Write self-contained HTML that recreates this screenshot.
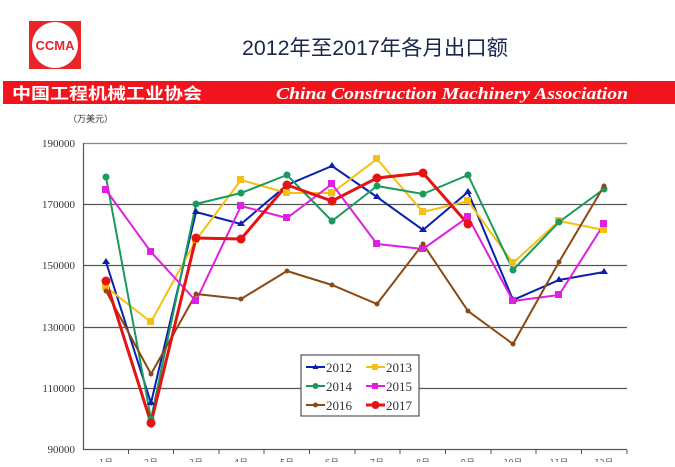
<!DOCTYPE html>
<html><head><meta charset="utf-8"><style>
body{margin:0;background:#fff;width:675px;height:462px;overflow:hidden}
</style></head><body>
<svg width="675" height="462" xmlns="http://www.w3.org/2000/svg" font-family="'Liberation Serif','Noto Serif CJK SC',serif">
<rect x="29" y="21" width="52" height="48" fill="#e8262a"/>
<ellipse cx="55" cy="45" rx="23" ry="23" fill="#fff"/>
<text x="55" y="50" font-family="'Liberation Sans',sans-serif" font-weight="bold" font-size="13" fill="#e8262a" text-anchor="middle">CCMA</text>
<text x="242" y="55" font-family="'Liberation Sans','Noto Sans CJK SC',sans-serif" font-size="21" fill="#1a2550" textLength="266" lengthAdjust="spacingAndGlyphs">2012年至2017年各月出口额</text>
<rect x="3" y="81" width="672" height="23" fill="#f2141c"/>
<text x="12" y="99" font-family="'Noto Sans CJK SC',sans-serif" font-weight="bold" font-size="16" fill="#fff" textLength="190" lengthAdjust="spacingAndGlyphs">中国工程机械工业协会</text>
<text x="276" y="99" font-style="italic" font-weight="bold" font-size="17" fill="#fff" textLength="352" lengthAdjust="spacingAndGlyphs">China Construction Machinery Association</text>
<text x="68" y="122" font-family="'Noto Sans CJK SC',sans-serif" font-size="9" fill="#333">（万美元）</text>
<g stroke="#555" stroke-width="1.2">
<line x1="83" y1="143.5" x2="627" y2="143.5" stroke="#888"/>
<line x1="83" y1="204.5" x2="627" y2="204.5"/>
<line x1="83" y1="265.5" x2="627" y2="265.5"/>
<line x1="83" y1="327.5" x2="627" y2="327.5"/>
<line x1="83" y1="388.5" x2="627" y2="388.5"/>
<line x1="83" y1="449.5" x2="627" y2="449.5"/>
<line x1="83.5" y1="143" x2="83.5" y2="450"/>
</g>
<g font-size="11" fill="#333" text-anchor="end">
<text x="75" y="147">190000</text><text x="75" y="208">170000</text><text x="75" y="269">150000</text>
<text x="75" y="331">130000</text><text x="75" y="392">110000</text><text x="75" y="453">90000</text>
</g>
<g stroke="#555" stroke-width="1">
<line x1="128.5" y1="450" x2="128.5" y2="454"/><line x1="173.5" y1="450" x2="173.5" y2="454"/><line x1="219" y1="450" x2="219" y2="454"/><line x1="264" y1="450" x2="264" y2="454"/><line x1="309.5" y1="450" x2="309.5" y2="454"/><line x1="355" y1="450" x2="355" y2="454"/><line x1="400" y1="450" x2="400" y2="454"/><line x1="445.5" y1="450" x2="445.5" y2="454"/><line x1="491" y1="450" x2="491" y2="454"/><line x1="536" y1="450" x2="536" y2="454"/><line x1="581.5" y1="450" x2="581.5" y2="454"/><line x1="627" y1="450" x2="627" y2="454"/>
</g>
<g font-family="'Noto Sans CJK SC',sans-serif" font-size="9" fill="#555" text-anchor="middle">
<text x="106" y="466">1月</text><text x="151" y="466">2月</text><text x="196" y="466">3月</text><text x="241" y="466">4月</text><text x="287" y="466">5月</text><text x="332" y="466">6月</text><text x="377" y="466">7月</text><text x="423" y="466">8月</text><text x="468" y="466">9月</text><text x="513" y="466">10月</text><text x="559" y="466">11月</text><text x="604" y="466">12月</text>
</g>
<g fill="none" stroke-width="2">
<polyline stroke="#0a1fb0" points="106,262 151,403 196,212 241,224 287,185 332,166 377,197 423,230 468,192 513,300 559,280 604,272"/>
<polyline stroke="#f6c012" points="106,287 151,322 196,240 241,180 287,193 332,193 377,159 423,212 468,201 513,263 559,221 604,230"/>
<polyline stroke="#1a9a5c" points="106,177 151,419 196,204 241,193 287,175 332,221 377,186 423,194 468,175 513,270 559,222 604,189"/>
<polyline stroke="#e020e0" points="106,190 151,252 196,301 241,206 287,218 332,184 377,244 423,249 468,217 513,301 559,295 604,224"/>
<polyline stroke="#8b4a14" points="106,291 151,374 196,294 241,299 287,271 332,285 377,304 423,244 468,311 513,344 559,262 604,186"/>
<polyline stroke="#e41414" stroke-width="3" points="106,281 151,423 196,238 241,239 287,185 332,201 377,178 423,173 468,224"/>
</g>
<g fill="#0a1fb0"><path d="M106 258l4 6h-8z M151 399l4 6h-8z M196 208l4 6h-8z M241 220l4 6h-8z M287 181l4 6h-8z M332 162l4 6h-8z M377 193l4 6h-8z M423 226l4 6h-8z M468 188l4 6h-8z M513 296l4 6h-8z M559 276l4 6h-8z M604 268l4 6h-8z"/></g>
<g fill="#f6c012"><rect x="102" y="283" width="7" height="7"/><rect x="147" y="318" width="7" height="7"/><rect x="192" y="236" width="7" height="7"/><rect x="237" y="176" width="7" height="7"/><rect x="283" y="189" width="7" height="7"/><rect x="328" y="189" width="7" height="7"/><rect x="373" y="155" width="7" height="7"/><rect x="419" y="208" width="7" height="7"/><rect x="464" y="197" width="7" height="7"/><rect x="509" y="259" width="7" height="7"/><rect x="555" y="217" width="7" height="7"/><rect x="600" y="226" width="7" height="7"/></g>
<g fill="#1a9a5c"><circle cx="106" cy="177" r="3.5"/><circle cx="151" cy="419" r="3.5"/><circle cx="196" cy="204" r="3.5"/><circle cx="241" cy="193" r="3.5"/><circle cx="287" cy="175" r="3.5"/><circle cx="332" cy="221" r="3.5"/><circle cx="377" cy="186" r="3.5"/><circle cx="423" cy="194" r="3.5"/><circle cx="468" cy="175" r="3.5"/><circle cx="513" cy="270" r="3.5"/><circle cx="559" cy="222" r="3.5"/><circle cx="604" cy="189" r="3.5"/></g>
<g fill="#e020e0"><rect x="102" y="186" width="7" height="7"/><rect x="147" y="248" width="7" height="7"/><rect x="192" y="297" width="7" height="7"/><rect x="237" y="202" width="7" height="7"/><rect x="283" y="214" width="7" height="7"/><rect x="328" y="180" width="7" height="7"/><rect x="373" y="240" width="7" height="7"/><rect x="419" y="245" width="7" height="7"/><rect x="464" y="213" width="7" height="7"/><rect x="509" y="297" width="7" height="7"/><rect x="555" y="291" width="7" height="7"/><rect x="600" y="220" width="7" height="7"/></g>
<g fill="#8b4a14"><circle cx="106" cy="291" r="2.5"/><circle cx="151" cy="374" r="2.5"/><circle cx="196" cy="294" r="2.5"/><circle cx="241" cy="299" r="2.5"/><circle cx="287" cy="271" r="2.5"/><circle cx="332" cy="285" r="2.5"/><circle cx="377" cy="304" r="2.5"/><circle cx="423" cy="244" r="2.5"/><circle cx="468" cy="311" r="2.5"/><circle cx="513" cy="344" r="2.5"/><circle cx="559" cy="262" r="2.5"/><circle cx="604" cy="186" r="2.5"/></g>
<g fill="#e41414"><circle cx="106" cy="281" r="4.5"/><circle cx="151" cy="423" r="4.5"/><circle cx="196" cy="238" r="4.5"/><circle cx="241" cy="239" r="4.5"/><circle cx="287" cy="185" r="4.5"/><circle cx="332" cy="201" r="4.5"/><circle cx="377" cy="178" r="4.5"/><circle cx="423" cy="173" r="4.5"/><circle cx="468" cy="224" r="4.5"/></g>
<rect x="301" y="355" width="118" height="61" fill="#fff" stroke="#333" stroke-width="1"/>
<g font-size="13" fill="#333">
<line x1="306" y1="367" x2="325" y2="367" stroke="#0a1fb0" stroke-width="2"/><path d="M315.5 364l3 5h-6z" fill="#0a1fb0"/><text x="326" y="372">2012</text>
<line x1="366" y1="367" x2="385" y2="367" stroke="#f6c012" stroke-width="2"/><rect x="372" y="364" width="6" height="6" fill="#f6c012"/><text x="386" y="372">2013</text>
<line x1="306" y1="386" x2="325" y2="386" stroke="#1a9a5c" stroke-width="2"/><circle cx="315.5" cy="386" r="3" fill="#1a9a5c"/><text x="326" y="391">2014</text>
<line x1="366" y1="386" x2="385" y2="386" stroke="#e020e0" stroke-width="2"/><rect x="372" y="383" width="6" height="6" fill="#e020e0"/><text x="386" y="391">2015</text>
<line x1="306" y1="405" x2="325" y2="405" stroke="#8b4a14" stroke-width="2"/><circle cx="315.5" cy="405" r="2.5" fill="#8b4a14"/><text x="326" y="410">2016</text>
<line x1="366" y1="405" x2="385" y2="405" stroke="#e41414" stroke-width="3"/><circle cx="375.5" cy="405" r="4" fill="#e41414"/><text x="386" y="410">2017</text>
</g>
</svg>
</body></html>
